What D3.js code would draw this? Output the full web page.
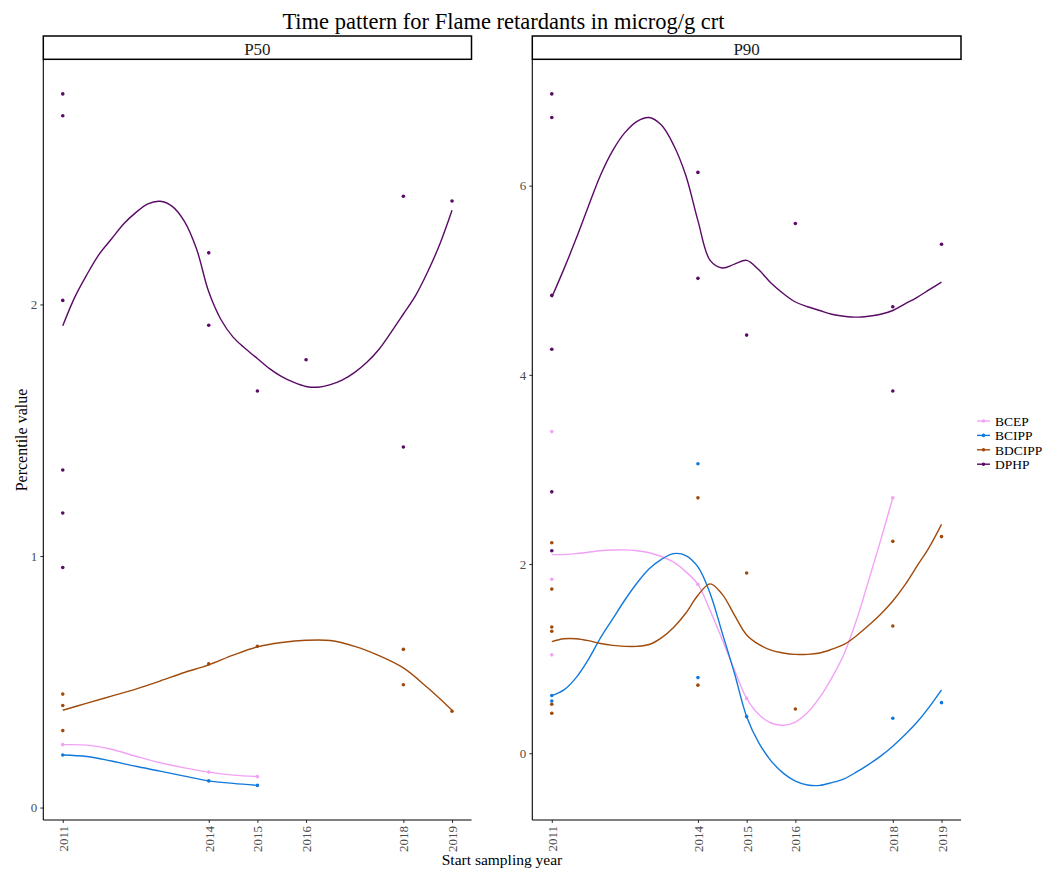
<!DOCTYPE html>
<html>
<head>
<meta charset="utf-8">
<script src="https://cdn.jsdelivr.net/npm/d3@7"></script>
<style>
  html, body { margin: 0; padding: 0; background: #fff; }
  svg { display: block; font-family: "Liberation Serif", "Times New Roman", serif; }
</style>
</head>
<body>
<svg id="chart" width="1057" height="870"></svg>
<script>
// ---------------- DATA ----------------
const series = ["BCEP", "BCIPP", "BDCIPP", "DPHP"];
const panelNames = ["P50", "P90"];
const xTickYears = [2011, 2014, 2015, 2016, 2018, 2019];
const p50YTicks = [0, 1, 2];
const p90YTicks = [0, 2, 4, 6];

// P50 observed points
const p50_BCEP_x = [2011, 2014, 2015];
const p50_BCEP_y = [0.250, 0.141, 0.123];
const p50_BCIPP_x = [2011, 2014, 2015];
const p50_BCIPP_y = [0.209, 0.106, 0.088];
const p50_BDCIPP_x = [2011, 2011, 2011, 2014, 2015, 2018, 2018, 2019];
const p50_BDCIPP_y = [0.451, 0.406, 0.306, 0.571, 0.641, 0.629, 0.488, 0.383];
const p50_DPHP_x = [2011, 2011, 2011, 2011, 2011, 2011, 2014, 2014, 2015, 2016, 2018, 2018, 2019];
const p50_DPHP_y = [2.837, 2.750, 2.016, 1.342, 1.171, 0.954, 2.205, 1.917, 1.656, 1.780, 2.430, 1.433, 2.411];

// P90 observed points
const p90_BCEP_x = [2011, 2011, 2011, 2014, 2015, 2018];
const p90_BCEP_y = [3.40, 1.84, 1.04, 1.785, 0.58, 2.70];
const p90_BCIPP_x = [2011, 2011, 2014, 2014, 2015, 2018, 2019];
const p90_BCIPP_y = [0.61, 0.553, 3.06, 0.80, 0.387, 0.37, 0.535];
const p90_BDCIPP_x = [2011, 2011, 2011, 2011, 2011, 2011, 2014, 2014, 2015, 2016, 2018, 2018, 2019];
const p90_BDCIPP_y = [2.225, 1.735, 1.334, 1.29, 0.518, 0.423, 2.70, 0.72, 1.905, 0.468, 2.24, 1.345, 2.29];
const p90_DPHP_x = [2011, 2011, 2011, 2011, 2011, 2011, 2014, 2014, 2015, 2016, 2018, 2018, 2019];
const p90_DPHP_y = [6.97, 6.72, 4.84, 4.27, 2.763, 2.14, 6.14, 5.02, 4.42, 5.60, 4.72, 3.83, 5.38];

// Smoothed trend lines
const p50_BCEP_fitX = [2011, 2011.5, 2012, 2012.5, 2013, 2013.5, 2014, 2014.5, 2015];
const p50_BCEP_fit = [0.250, 0.248, 0.232, 0.204, 0.178, 0.158, 0.141, 0.129, 0.123];
const p50_BCIPP_fitX = [2011, 2011.5, 2012, 2012.5, 2013, 2013.5, 2014, 2014.5, 2015];
const p50_BCIPP_fit = [0.209, 0.203, 0.185, 0.164, 0.145, 0.125, 0.106, 0.096, 0.088];
const p50_BDCIPP_fitX = [2011, 2011.5, 2012, 2012.5, 2013, 2013.5, 2014, 2014.5, 2015, 2015.5, 2016, 2016.5, 2017, 2017.5, 2018, 2018.5, 2019];
const p50_BDCIPP_fit = [0.387, 0.415, 0.443, 0.471, 0.503, 0.537, 0.567, 0.606, 0.639, 0.656, 0.665, 0.664, 0.641, 0.604, 0.555, 0.476, 0.387];
const p50_DPHP_fitX = [2011, 2011.25, 2011.5, 2011.75, 2012, 2012.25, 2012.5, 2012.75, 2013, 2013.25, 2013.5, 2013.75, 2014, 2014.25, 2014.5, 2014.75, 2015, 2015.25, 2015.5, 2015.75, 2016, 2016.25, 2016.5, 2016.75, 2017, 2017.25, 2017.5, 2017.75, 2018, 2018.25, 2018.5, 2018.75, 2019];
const p50_DPHP_fit = [1.915, 2.03, 2.12, 2.20, 2.26, 2.32, 2.365, 2.40, 2.41, 2.39, 2.33, 2.22, 2.05, 1.94, 1.87, 1.825, 1.785, 1.745, 1.713, 1.69, 1.674, 1.671, 1.681, 1.70, 1.73, 1.77, 1.822, 1.89, 1.962, 2.035, 2.13, 2.24, 2.374];

const p90_BCEP_fitX = [2011, 2011.25, 2011.5, 2011.75, 2012, 2012.25, 2012.5, 2012.75, 2013, 2013.25, 2013.5, 2013.75, 2014, 2014.25, 2014.5, 2014.75, 2015, 2015.25, 2015.5, 2015.75, 2016, 2016.25, 2016.5, 2016.75, 2017, 2017.25, 2017.5, 2017.75, 2018];
const p90_BCEP_fit = [2.10, 2.10, 2.11, 2.125, 2.14, 2.148, 2.15, 2.14, 2.12, 2.08, 2.02, 1.92, 1.785, 1.51, 1.20, 0.88, 0.58, 0.41, 0.32, 0.296, 0.33, 0.43, 0.59, 0.80, 1.05, 1.40, 1.82, 2.25, 2.70];
const p90_BCIPP_fitX = [2011, 2011.25, 2011.5, 2011.75, 2012, 2012.25, 2012.5, 2012.75, 2013, 2013.25, 2013.5, 2013.75, 2014, 2014.25, 2014.5, 2014.75, 2015, 2015.25, 2015.5, 2015.75, 2016, 2016.25, 2016.5, 2016.75, 2017, 2017.25, 2017.5, 2017.75, 2018, 2018.25, 2018.5, 2018.75, 2019];
const p90_BCIPP_fit = [0.61, 0.67, 0.80, 0.99, 1.22, 1.42, 1.62, 1.80, 1.95, 2.05, 2.11, 2.09, 1.97, 1.69, 1.27, 0.845, 0.387, 0.11, -0.08, -0.21, -0.295, -0.335, -0.34, -0.31, -0.27, -0.20, -0.12, -0.03, 0.075, 0.195, 0.33, 0.49, 0.67];
const p90_BDCIPP_fitX = [2011, 2011.25, 2011.5, 2011.75, 2012, 2012.25, 2012.5, 2012.75, 2013, 2013.25, 2013.5, 2013.75, 2014, 2014.25, 2014.5, 2014.75, 2015, 2015.25, 2015.5, 2015.75, 2016, 2016.25, 2016.5, 2016.75, 2017, 2017.25, 2017.5, 2017.75, 2018, 2018.25, 2018.5, 2018.75, 2019];
const p90_BDCIPP_fit = [1.18, 1.21, 1.21, 1.19, 1.16, 1.14, 1.13, 1.13, 1.15, 1.22, 1.33, 1.48, 1.67, 1.79, 1.68, 1.46, 1.25, 1.15, 1.09, 1.06, 1.045, 1.045, 1.06, 1.10, 1.15, 1.24, 1.35, 1.47, 1.61, 1.78, 1.98, 2.18, 2.42];
const p90_DPHP_fitX = [2011, 2011.25, 2011.5, 2011.75, 2012, 2012.25, 2012.5, 2012.75, 2013, 2013.25, 2013.5, 2013.75, 2014, 2014.25, 2014.5, 2014.75, 2015, 2015.25, 2015.5, 2015.75, 2016, 2016.25, 2016.5, 2016.75, 2017, 2017.25, 2017.5, 2017.75, 2018, 2018.25, 2018.5, 2018.75, 2019];
const p90_DPHP_fit = [4.82, 5.12, 5.44, 5.78, 6.11, 6.37, 6.56, 6.68, 6.72, 6.64, 6.43, 6.11, 5.63, 5.21, 5.13, 5.17, 5.21, 5.11, 4.97, 4.86, 4.77, 4.72, 4.68, 4.64, 4.62, 4.61, 4.62, 4.64, 4.68, 4.75, 4.82, 4.90, 4.98];

// ---------------- STYLE ----------------
const seriesColors = ["#F2A2F6", "#1279DC", "#A04B0C", "#5A0A66"];

// ---------------- BUILD ----------------
const zip = (xs, ys) => xs.map((x, i) => ({ x: x, y: ys[i] }));
const panelData = [
  {
    name: "P50", yTicks: p50YTicks,
    points: [zip(p50_BCEP_x, p50_BCEP_y), zip(p50_BCIPP_x, p50_BCIPP_y), zip(p50_BDCIPP_x, p50_BDCIPP_y), zip(p50_DPHP_x, p50_DPHP_y)],
    fits: [zip(p50_BCEP_fitX, p50_BCEP_fit), zip(p50_BCIPP_fitX, p50_BCIPP_fit), zip(p50_BDCIPP_fitX, p50_BDCIPP_fit), zip(p50_DPHP_fitX, p50_DPHP_fit)]
  },
  {
    name: "P90", yTicks: p90YTicks,
    points: [zip(p90_BCEP_x, p90_BCEP_y), zip(p90_BCIPP_x, p90_BCIPP_y), zip(p90_BDCIPP_x, p90_BDCIPP_y), zip(p90_DPHP_x, p90_DPHP_y)],
    fits: [zip(p90_BCEP_fitX, p90_BCEP_fit), zip(p90_BCIPP_fitX, p90_BCIPP_fit), zip(p90_BDCIPP_fitX, p90_BDCIPP_fit), zip(p90_DPHP_fitX, p90_DPHP_fit)]
  }
];

const svg = d3.select("#chart");
const color = d3.scaleOrdinal().domain(series).range(seriesColors);

const panelLayout = [
  { left: 43.3, right: 471.5 },
  { left: 532.3, right: 961 }
];
const plotTop = 59.3, plotBottom = 820;
const stripTop = 36;

svg.append("text")
  .attr("x", 503.5).attr("y", 29)
  .attr("text-anchor", "middle")
  .attr("font-size", 22.5)
  .attr("fill", "#000")
  .text("Time pattern for Flame retardants in microg/g crt");

panelData.forEach((pd, pi) => {
  const L = panelLayout[pi];
  const xmin = d3.min(xTickYears), xmax = d3.max(xTickYears);
  const xpad = (xmax - xmin) * 0.05;
  const x = d3.scaleLinear().domain([xmin - xpad, xmax + xpad]).range([L.left, L.right]);

  const allY = pd.points.flat().map(d => d.y).concat(pd.fits.flat().map(d => d.y));
  const ymin = d3.min(allY), ymax = d3.max(allY);
  const ypad = (ymax - ymin) * 0.05;
  const y = d3.scaleLinear().domain([ymin - ypad, ymax + ypad]).range([plotBottom, plotTop]);

  const g = svg.append("g");

  // strip
  g.append("rect")
    .attr("x", L.left).attr("y", stripTop)
    .attr("width", L.right - L.left).attr("height", plotTop - stripTop)
    .attr("fill", "#fff").attr("stroke", "#000").attr("stroke-width", 1.5);
  g.append("text")
    .attr("x", (L.left + L.right) / 2).attr("y", 55)
    .attr("text-anchor", "middle")
    .attr("font-size", 17).attr("fill", "#1a1a1a")
    .text(pd.name);

  // points
  pd.points.forEach((pts, si) => {
    g.append("g").selectAll("circle").data(pts).join("circle")
      .attr("cx", d => x(d.x)).attr("cy", d => y(d.y))
      .attr("r", 1.8)
      .attr("fill", color(series[si]));
  });

  // smooth lines
  const line = d3.line().x(d => x(d.x)).y(d => y(d.y)).curve(d3.curveCatmullRom.alpha(0.5));
  pd.fits.forEach((f, si) => {
    g.append("path").datum(f)
      .attr("d", line)
      .attr("fill", "none")
      .attr("stroke", color(series[si]))
      .attr("stroke-width", 1.4);
  });

  // y axis
  const yAxis = d3.axisLeft(y).tickValues(pd.yTicks).tickSize(3).tickPadding(3).tickFormat(d3.format("d"));
  const ya = g.append("g").attr("transform", `translate(${L.left},0)`).call(yAxis);
  ya.select(".domain").remove();
  ya.append("line").attr("x1", 0).attr("x2", 0).attr("y1", plotTop).attr("y2", plotBottom)
    .attr("stroke", "#000").attr("stroke-width", 1.1);
  ya.selectAll(".tick line").attr("stroke", "#333");
  ya.selectAll(".tick text").attr("fill", "#4d4d4d").attr("font-size", 13)
    .attr("font-family", "Liberation Serif, serif");

  // x axis
  const xAxis = d3.axisBottom(x).tickValues(xTickYears).tickSize(3).tickFormat(d3.format("d"));
  const xa = g.append("g").attr("transform", `translate(0,${plotBottom})`).call(xAxis);
  xa.select(".domain").remove();
  xa.append("line").attr("x1", L.left).attr("x2", L.right).attr("y1", 0).attr("y2", 0)
    .attr("stroke", "#000").attr("stroke-width", 1.1);
  xa.selectAll(".tick line").attr("stroke", "#333");
  xa.selectAll(".tick text")
    .attr("fill", "#4d4d4d").attr("font-size", 13)
    .attr("font-family", "Liberation Serif, serif")
    .attr("text-anchor", "end")
    .attr("transform", "translate(0,6) rotate(-90)")
    .attr("x", 0).attr("y", 0).attr("dy", "0.35em");
});

// axis titles
svg.append("text")
  .attr("x", 502).attr("y", 865)
  .attr("text-anchor", "middle").attr("font-size", 15.5).attr("fill", "#000")
  .text("Start sampling year");
svg.append("text")
  .attr("transform", "translate(27,440) rotate(-90)")
  .attr("text-anchor", "middle").attr("font-size", 16).attr("fill", "#000")
  .text("Percentile value");

// legend
const lg = svg.append("g").attr("transform", "translate(976,421)");
series.forEach((s, i) => {
  const row = lg.append("g").attr("transform", `translate(0,${i * 14.4})`);
  row.append("line").attr("x1", 1).attr("x2", 14).attr("y1", 0).attr("y2", 0)
    .attr("stroke", color(s)).attr("stroke-width", 1.4);
  row.append("circle").attr("cx", 7.5).attr("cy", 0).attr("r", 1.8).attr("fill", color(s));
  row.append("text").attr("x", 19).attr("y", 0).attr("dy", "0.35em")
    .attr("font-size", 13.5).attr("fill", "#000").text(s);
});
</script>
</body>
</html>
